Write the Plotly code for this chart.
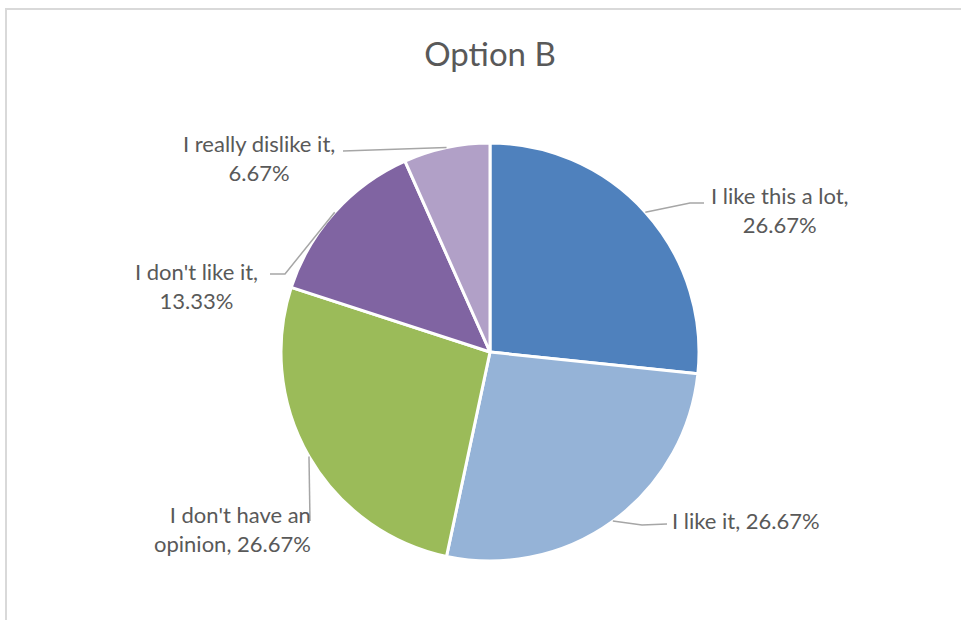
import math
import plotly.graph_objects as go

# ---- data ----
categories = ["I like this a lot", "I like it", "I don't have an opinion",
              "I don't like it", "I really dislike it"]
percentages = [26.67, 26.67, 26.67, 13.33, 6.67]
title_text = "Option B"

# ---- style ----
colors = ["#4F81BD", "#95B3D7", "#9BBB59", "#8064A2", "#B1A0C7"]
W, H = 961, 620
CX, CY, R = 490, 352, 209          # pie centre / radius in pixels
TEXT_COLOR = "#595959"
LINE_COLOR = "#A6A6A6"
FONT = "Lato"

# where each label block sits (pixels) and how its leader bends
label_style = [
    dict(pos=(780, 210), anchor="center", leader=[(690, 203), (704, 203)], brk=True),
    dict(pos=(670, 520), anchor="left", leader=[(642, 525), (667, 524)], brk=False),
    dict(pos=(313, 529), anchor="right", leader=[(310, 521)], brk="an "),
    dict(pos=(196, 286), anchor="center", leader=[(285, 274), (270, 274)], brk=True),
    dict(pos=(259, 158), anchor="center", leader=[(343, 151)], brk=True),
]


def px2paper(x, y):
    return x / W, 1 - y / H


fig = go.Figure(go.Pie(
    labels=categories,
    values=percentages,
    sort=False,
    direction="clockwise",
    rotation=0,
    textinfo="none",
    hoverinfo="skip",
    marker=dict(colors=colors, line=dict(color="white", width=3)),
    domain=dict(x=[(CX - R) / W, (CX + R) / W],
                y=[(H - CY - R) / H, (H - CY + R) / H]),
    showlegend=False,
))

total = sum(percentages)
cum = 0.0
shapes = []
annotations = []
for cat, val, st in zip(categories, percentages, label_style):
    mid = (cum + val / 2) / total * 360.0
    cum += val
    ex = CX + R * math.sin(math.radians(mid))
    ey = CY - R * math.cos(math.radians(mid))
    pts = [(ex, ey)] + st["leader"]
    path = ""
    for i, (x, y) in enumerate(pts):
        px, py = px2paper(x, y)
        path += ("M" if i == 0 else " L") + f" {px:.5f},{py:.5f}"
    shapes.append(dict(type="path", path=path, xref="paper", yref="paper",
                       line=dict(color=LINE_COLOR, width=1.5)))
    pct = f"{val:.2f}%"
    if st["brk"] is True:
        txt = f"{cat},<br>{pct}"
    elif st["brk"] is False:
        txt = f"{cat}, {pct}"
    else:
        head, tail = cat.split(st["brk"], 1)
        txt = f"{head}{st['brk'].strip()}<br>{tail}, {pct}"
    tx, ty = px2paper(*st["pos"])
    annotations.append(dict(text=txt, x=tx, y=ty, xref="paper", yref="paper",
                            xanchor=st["anchor"], yanchor="middle",
                            align=st["anchor"] if st["anchor"] != "center" else "center",
                            showarrow=False,
                            font=dict(family=FONT, size=22, color=TEXT_COLOR)))

# chart-area border (light grey, top and left visible)
shapes.append(dict(type="rect", xref="paper", yref="paper",
                   x0=6 / W, x1=1.01, y0=-0.01, y1=1 - 9 / H,
                   line=dict(color="#D9D9D9", width=2)))

fig.update_layout(
    width=W, height=H,
    margin=dict(l=0, r=0, t=0, b=0),
    paper_bgcolor="white",
    plot_bgcolor="white",
    title=dict(text=title_text, x=490 / W, xanchor="center",
               y=1 - 54 / H, yanchor="middle",
               font=dict(family=FONT, size=33, color=TEXT_COLOR)),
    shapes=shapes,
    annotations=annotations,
)

fig.write_html("out.html",
               config={"displayModeBar": False},
               post_script="document.body.style.margin='0';"
                           "document.body.style.overflow='hidden';")
